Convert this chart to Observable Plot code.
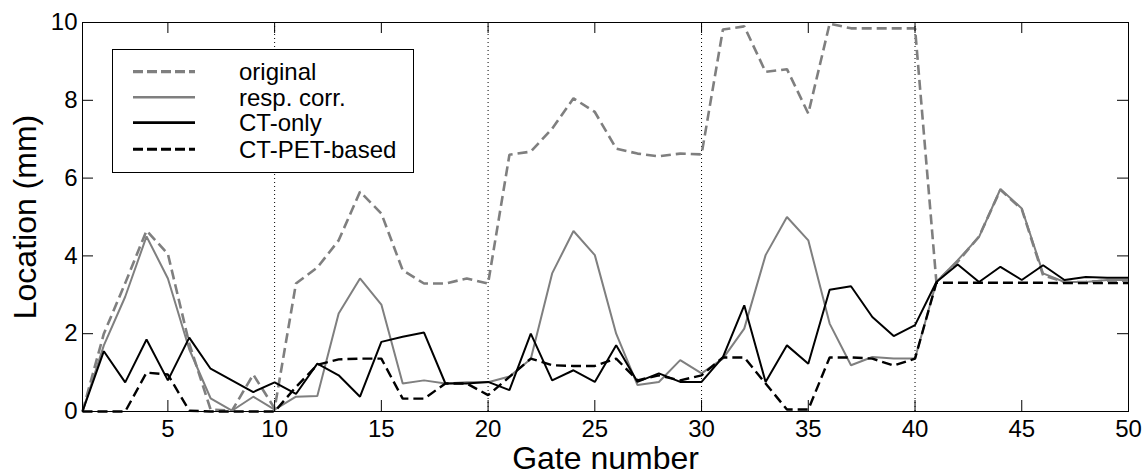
<!DOCTYPE html>
<html>
<head>
<meta charset="utf-8">
<script src="https://cdn.jsdelivr.net/npm/d3@7"></script>
<script src="https://cdn.jsdelivr.net/npm/@observablehq/plot@0.6"></script>
<style>
  html, body { margin: 0; padding: 0; background: white; }
  #wrap { position: relative; width: 1146px; height: 476px; font-family: "Liberation Sans", Arial, sans-serif; }
  #legend { position: absolute; left: 112px; top: 49px; }
</style>
</head>
<body>
<div id="wrap"></div>
<script>
// ---- data ----
const gates = d3.range(1, 51);
const original = [0, 2.0, 3.3, 4.65, 4.05, 1.75, 0.05, 0.02, 0.95, 0.08,
  3.29, 3.7, 4.4, 5.65, 5.09, 3.63, 3.29, 3.29, 3.42, 3.29,
  6.6, 6.68, 7.27, 8.05, 7.7, 6.76, 6.63, 6.56, 6.63, 6.61,
  9.82, 9.9, 8.73, 8.8, 7.66, 9.97, 9.85, 9.85, 9.85, 9.85,
  3.33, 3.85, 4.5, 5.7, 5.2, 3.5, 3.33, 3.33, 3.36, 3.36];
const respCorr = [0, 1.7, 2.95, 4.5, 3.42, 1.6, 0.34, 0.02, 0.38, 0.05,
  0.38, 0.4, 2.52, 3.42, 2.75, 0.72, 0.8, 0.72, 0.75, 0.75,
  0.9, 1.35, 3.55, 4.64, 4.02, 2.0, 0.68, 0.76, 1.32, 0.98,
  1.36, 2.13, 4.02, 5.0, 4.4, 2.26, 1.19, 1.4, 1.36, 1.36,
  3.33, 3.89, 4.49, 5.72, 5.22, 3.55, 3.33, 3.33, 3.38, 3.38];
const ctOnly = [0, 1.55, 0.75, 1.85, 0.8, 1.9, 1.1, 0.8, 0.5, 0.75,
  0.45, 1.23, 0.93, 0.38, 1.79, 1.92, 2.03, 0.72, 0.72, 0.76,
  0.55, 2.0, 0.8, 1.06, 0.76, 1.7, 0.76, 0.98, 0.76, 0.76,
  1.4, 2.73, 0.76, 1.7, 1.23, 3.13, 3.22, 2.43, 1.94, 2.22,
  3.33, 3.78, 3.33, 3.72, 3.38, 3.76, 3.38, 3.46, 3.44, 3.44];
const ctPet = [0, 0, 0, 1.0, 0.95, 0.02, 0, 0, 0, 0,
  0.63, 1.2, 1.34, 1.36, 1.36, 0.33, 0.33, 0.72, 0.72, 0.42,
  0.89, 1.36, 1.19, 1.17, 1.17, 1.36, 0.8, 0.93, 0.8, 0.93,
  1.39, 1.39, 0.72, 0.05, 0.05, 1.39, 1.39, 1.36, 1.18, 1.36,
  3.31, 3.31, 3.31, 3.31, 3.31, 3.31, 3.3, 3.3, 3.3, 3.3];
const seriesNames = ["original", "resp. corr.", "CT-only", "CT-PET-based"];
const xTicks = [5, 10, 15, 20, 25, 30, 35, 40, 45, 50];
const yTicks = [0, 2, 4, 6, 8, 10];
const dividers = [10, 20, 30, 40];
const xLabel = "Gate number";
const yLabel = "Location (mm)";

// ---- styles ----
const GRAY = "#7f7f7f";
const styles = [
  {stroke: GRAY, strokeWidth: 2.6, strokeDasharray: "10,5"},
  {stroke: GRAY, strokeWidth: 2},
  {stroke: "black", strokeWidth: 2},
  {stroke: "black", strokeWidth: 2.4, strokeDasharray: "10,5"}
];
const allValues = [original, respCorr, ctOnly, ctPet];

const W = 1146, H = 476, mL = 82, mR = 18, mT = 22, mB = 65;
const innerW = W - mL - mR, innerH = H - mT - mB, tickLen = 11;

const toRows = vals => gates.map((g, i) => ({gate: g, value: vals[i]}));

const chart = Plot.plot({
  width: W, height: H,
  marginLeft: mL, marginRight: mR, marginTop: mT, marginBottom: mB,
  style: {fontFamily: "'Liberation Sans', Arial, sans-serif", fontSize: "24px", color: "black", background: "white", overflow: "visible"},
  x: {domain: [1, 50]},
  y: {domain: [0, 10]},
  marks: [
    Plot.ruleX(dividers, {x: d => d, stroke: "black", strokeWidth: 1, strokeDasharray: "1,3"}),
    ...allValues.map((vals, i) => Plot.line(toRows(vals), {x: "gate", y: "value", ...styles[i], strokeLinejoin: "miter", strokeLinecap: "butt"})),
    Plot.frame({stroke: "black", strokeWidth: 1}),
    Plot.tickX(xTicks, {x: d => d, insetTop: innerH - tickLen, stroke: "black"}),
    Plot.tickX(xTicks, {x: d => d, insetBottom: innerH - tickLen, stroke: "black"}),
    Plot.tickY(yTicks, {y: d => d, insetRight: innerW - tickLen, stroke: "black"}),
    Plot.tickY(yTicks, {y: d => d, insetLeft: innerW - tickLen, stroke: "black"}),
    Plot.axisX(xTicks, {tickSize: 0, tickPadding: 8, label: null, fontSize: 24}),
    Plot.axisY(yTicks, {tickSize: 0, tickPadding: 5, label: null, fontSize: 24}),
    Plot.text([xLabel], {frameAnchor: "bottom", dy: 47, lineAnchor: "middle", textAnchor: "middle", fontSize: 32, text: d => d}),
    Plot.text([yLabel], {frameAnchor: "left", dx: -57, rotate: -90, lineAnchor: "middle", textAnchor: "middle", fontSize: 32, text: d => d})
  ]
});
document.getElementById("wrap").appendChild(chart);

// ---- legend box (inside the axes, like the reference) ----
const lg = d3.select("#wrap").append("svg")
  .attr("id", "legend").attr("width", 302).attr("height", 124);
lg.append("rect").attr("x", 0.5).attr("y", 0.5).attr("width", 301).attr("height", 123)
  .attr("fill", "white").attr("stroke", "black").attr("stroke-width", 1);
const rowY = [22.7, 48.3, 73.6, 100.3];
seriesNames.forEach((name, i) => {
  const s = styles[i];
  lg.append("line").attr("x1", 21).attr("x2", 83).attr("y1", rowY[i]).attr("y2", rowY[i])
    .attr("stroke", s.stroke).attr("stroke-width", s.strokeWidth + 0.6)
    .attr("stroke-dasharray", s.strokeDasharray ? "10,4" : null);
  lg.append("text").attr("x", 127).attr("y", rowY[i]).attr("dominant-baseline", "central")
    .attr("font-size", 24).attr("font-family", "'Liberation Sans', Arial, sans-serif")
    .text(name);
});
</script>
</body>
</html>
